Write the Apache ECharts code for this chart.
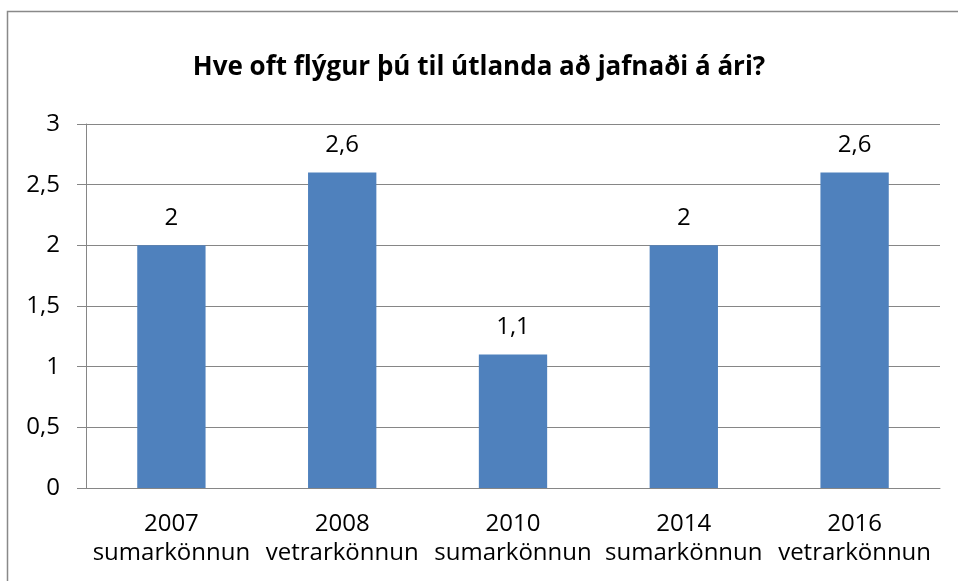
<!DOCTYPE html>
<html><head><meta charset="utf-8">
<script src="https://cdn.jsdelivr.net/npm/echarts@6/dist/echarts.min.js"></script>
<style>html,body{margin:0;padding:0;background:#fff}#c{width:958px;height:581px}</style>
</head><body><div id="c"></div>
<script>
const categories = ["2007\nsumarkönnun", "2008\nvetrarkönnun", "2010\nsumarkönnun", "2014\nsumarkönnun", "2016\nvetrarkönnun"];
const values = [2, 2.6, 1.1, 2, 2.6];
const titleText = "Hve oft flýgur þú til útlanda að jafnaði á ári?";
const fmt = v => String(v).replace('.', ',');
const chart = echarts.init(document.getElementById('c'), null, {renderer: 'canvas'});
const font = "Open Sans";
chart.setOption({
  animation: false,
  graphic: [{type: 'rect', shape: {x: 7.5, y: 11.5, width: 1000, height: 700}, style: {fill: 'none', stroke: '#898989', lineWidth: 1.5}, silent: true}],
  title: {text: titleText, left: 'center', top: 50, textStyle: {fontFamily: font, fontWeight: 'bold', fontSize: 26, color: '#000'}},
  grid: {left: 86, right: 18, top: 124, bottom: 93, containLabel: false},
  xAxis: {type: 'category', data: categories,
    axisLine: {lineStyle: {color: '#868686', width: 1}},
    axisTick: {length: 8, lineStyle: {color: '#868686'}},
    axisLabel: {color: '#000', fontFamily: font, fontSize: 24, lineHeight: 29, margin: 22, interval: 0}},
  yAxis: {type: 'value', min: 0, max: 3, interval: 0.5,
    axisLine: {show: true, lineStyle: {color: '#868686'}},
    axisTick: {show: true, length: 9, lineStyle: {color: '#868686'}},
    splitLine: {lineStyle: {color: '#868686'}},
    axisLabel: {color: '#000', fontFamily: font, fontSize: 24, margin: 26, formatter: fmt}},
  series: [{type: 'bar', data: values, barWidth: '40%', itemStyle: {color: '#4f81bd'},
    label: {show: true, position: 'top', distance: 15, color: '#000', fontFamily: font, fontSize: 24, formatter: p => fmt(p.value)}}]
});
</script></body></html>
